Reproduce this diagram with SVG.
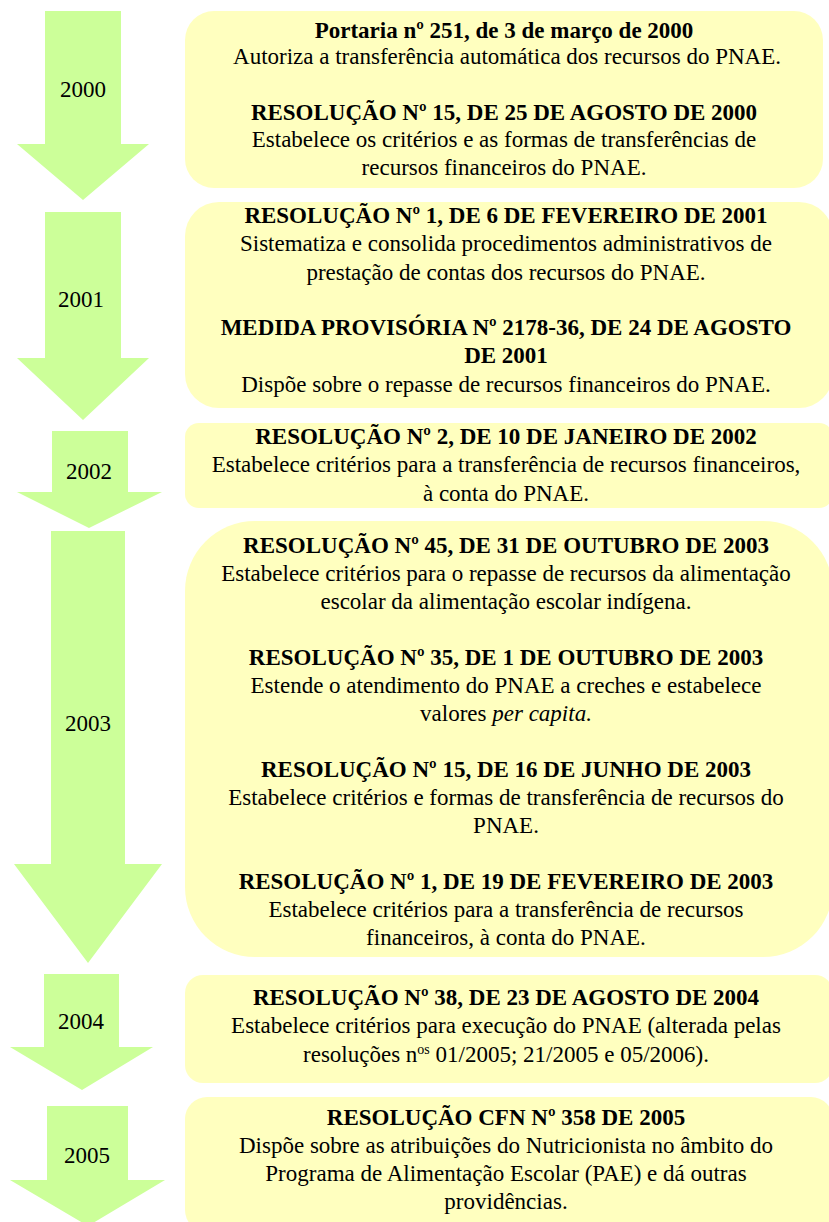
<svg xmlns="http://www.w3.org/2000/svg" width="829" height="1222" viewBox="0 0 829 1222">
<style>
.arrow{fill:#CCFF99;stroke:none}
.box{fill:#FFFFBF;stroke:none}
text{font-family:'Liberation Serif',serif;font-size:23px;fill:#000;text-anchor:middle}
.b{font-weight:bold}
</style>
<rect width="829" height="1222" fill="#fff"/>
<g id="y2000">
<polygon class="arrow" points="45,11 121,11 121,144 149,144 83,200 17,144 45,144"/>
<text x="83" y="97">2000</text>
</g>
<g id="box2000">
<rect class="box" x="185" y="11" width="638" height="177" rx="29"/>
<text class="b" x="504" y="38">Portaria nº 251, de 3 de março de 2000</text>
<text x="507" y="64">Autoriza a transferência automática dos recursos do PNAE.</text>
<text class="b" x="504" y="120">RESOLUÇÃO Nº 15, DE 25 DE AGOSTO DE 2000</text>
<text x="504" y="147">Estabelece os critérios e as formas de transferências de</text>
<text x="504" y="175">recursos financeiros do PNAE.</text>
</g>
<g id="y2001">
<polygon class="arrow" points="45,212 121,212 121,358 149,358 83,420 17,358 45,358"/>
<text x="81" y="307">2001</text>
</g>
<g id="box2001">
<rect class="box" x="185" y="202" width="648" height="206" rx="34"/>
<text class="b" x="506" y="223">RESOLUÇÃO Nº 1, DE 6 DE FEVEREIRO DE 2001</text>
<text x="506" y="251">Sistematiza e consolida procedimentos administrativos de</text>
<text x="506" y="280">prestação de contas dos recursos do PNAE.</text>
<text class="b" x="506" y="335">MEDIDA PROVISÓRIA Nº 2178-36, DE 24 DE AGOSTO</text>
<text class="b" x="506" y="363">DE 2001</text>
<text x="506" y="392">Dispõe sobre o repasse de recursos financeiros do PNAE.</text>
</g>
<g id="y2002">
<polygon class="arrow" points="52,431 128,431 128,492 162,492 89,528 17,492 52,492"/>
<text x="89" y="479">2002</text>
</g>
<g id="box2002">
<rect class="box" x="185" y="423" width="648" height="85" rx="14"/>
<text class="b" x="506" y="444">RESOLUÇÃO Nº 2, DE 10 DE JANEIRO DE 2002</text>
<text x="506" y="472">Estabelece critérios para a transferência de recursos financeiros,</text>
<text x="506" y="501">à conta do PNAE.</text>
</g>
<g id="y2003">
<polygon class="arrow" points="51,531 125,531 125,864 162,864 88,963 14,864 51,864"/>
<text x="88" y="731">2003</text>
</g>
<g id="box2003">
<rect class="box" x="185" y="521" width="648" height="436" rx="70"/>
<text class="b" x="506" y="553">RESOLUÇÃO Nº 45, DE 31 DE OUTUBRO DE 2003</text>
<text x="506" y="581">Estabelece critérios para o repasse de recursos da alimentação</text>
<text x="506" y="609">escolar da alimentação escolar indígena.</text>
<text class="b" x="506" y="665">RESOLUÇÃO Nº 35, DE 1 DE OUTUBRO DE 2003</text>
<text x="506" y="693">Estende o atendimento do PNAE a creches e estabelece</text>
<text x="506" y="721">valores <tspan font-style="italic">per capita.</tspan></text>
<text class="b" x="506" y="777">RESOLUÇÃO Nº 15, DE 16 DE JUNHO DE 2003</text>
<text x="506" y="805">Estabelece critérios e formas de transferência de recursos do</text>
<text x="506" y="833">PNAE.</text>
<text class="b" x="506" y="889">RESOLUÇÃO Nº 1, DE 19 DE FEVEREIRO DE 2003</text>
<text x="506" y="917">Estabelece critérios para a transferência de recursos</text>
<text x="506" y="945">financeiros, à conta do PNAE.</text>
</g>
<g id="y2004">
<polygon class="arrow" points="44,974 119,974 119,1047 153,1047 82,1090 10,1047 44,1047"/>
<text x="81" y="1029">2004</text>
</g>
<g id="box2004">
<rect class="box" x="185" y="975" width="648" height="108" rx="18"/>
<text class="b" x="506" y="1005">RESOLUÇÃO Nº 38, DE 23 DE AGOSTO DE 2004</text>
<text x="506" y="1033">Estabelece critérios para execução do PNAE (alterada pelas</text>
<text x="506" y="1062">resoluções n<tspan font-size="14" dy="-8">os</tspan><tspan dy="8"> 01/2005; 21/2005 e 05/2006).</tspan></text>
</g>
<g id="y2005">
<polygon class="arrow" points="47,1106 128,1106 128,1180 165,1180 88,1226 10,1180 47,1180"/>
<text x="87" y="1163">2005</text>
</g>
<g id="box2005">
<rect class="box" x="185" y="1097" width="648" height="135" rx="22"/>
<text class="b" x="506" y="1125">RESOLUÇÃO CFN Nº 358 DE 2005</text>
<text x="506" y="1153">Dispõe sobre as atribuições do Nutricionista no âmbito do</text>
<text x="506" y="1181">Programa de Alimentação Escolar (PAE) e dá outras</text>
<text x="506" y="1209">providências.</text>
</g>
<g id="connectors"></g>
</svg>
